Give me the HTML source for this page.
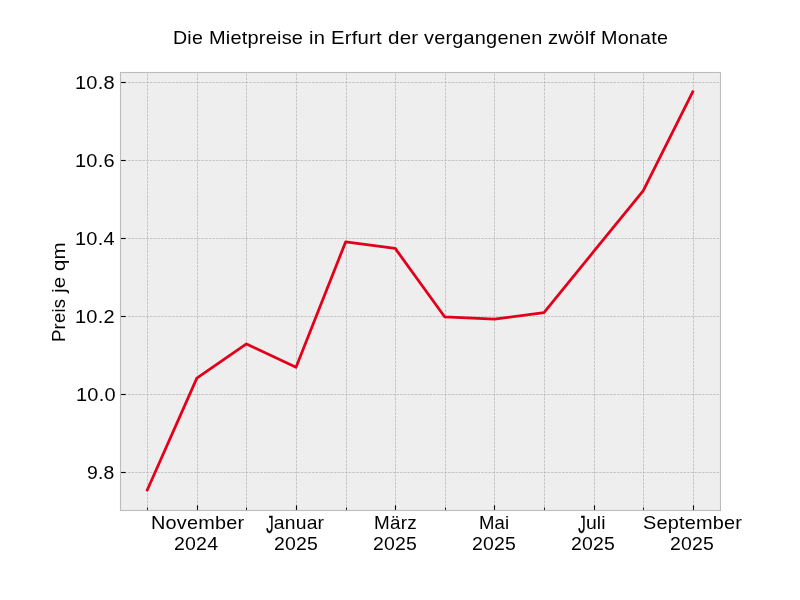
<!DOCTYPE html>
<html lang="de">
<head>
<meta charset="utf-8">
<title>Die Mietpreise in Erfurt der vergangenen zwölf Monate</title>
<style>
html,body{margin:0;padding:0;background:#ffffff;}
body{width:800px;height:600px;position:relative;overflow:hidden;font-family:"Liberation Sans",sans-serif;color:#000000;}
svg{position:absolute;left:0;top:0;display:block;}
#labels{position:absolute;left:0;top:0;width:800px;height:600px;will-change:transform;}
.grp{position:absolute;left:0;top:0;width:0;height:0;margin:0;padding:0;font-weight:normal;font-size:19px;}
.j{display:inline-block;transform-origin:100% -2px;transform:scale(0.76,1.24);-webkit-text-stroke:0.3px #000;}
.t{position:absolute;display:block;white-space:nowrap;line-height:1;transform-origin:0 0;margin:0;padding:0;}
</style>
</head>
<body>
<svg width="800" height="600" viewBox="0 0 800 600">
<rect x="120" y="72" width="601" height="439" fill="#eeeeee"/>
<g stroke="#b2b2b2" stroke-width="1" stroke-opacity="0.69" stroke-dasharray="2.57 1.11" fill="none">
<path stroke-dashoffset="0.53" d="M147.5 510V73"/>
<path stroke-dashoffset="0.53" d="M197.5 510V73"/>
<path stroke-dashoffset="0.53" d="M246.5 510V73"/>
<path stroke-dashoffset="0.53" d="M296.5 510V73"/>
<path stroke-dashoffset="0.53" d="M346.5 510V73"/>
<path stroke-dashoffset="0.53" d="M395.5 510V73"/>
<path stroke-dashoffset="0.53" d="M445.5 510V73"/>
<path stroke-dashoffset="0.53" d="M494.5 510V73"/>
<path stroke-dashoffset="0.53" d="M544.5 510V73"/>
<path stroke-dashoffset="0.53" d="M594.5 510V73"/>
<path stroke-dashoffset="0.53" d="M643.5 510V73"/>
<path stroke-dashoffset="0.53" d="M693.5 510V73"/>
<path stroke-dashoffset="3.21" d="M120 82.5H720"/>
<path stroke-dashoffset="3.21" d="M120 160.5H720"/>
<path stroke-dashoffset="3.21" d="M120 238.5H720"/>
<path stroke-dashoffset="3.21" d="M120 316.5H720"/>
<path stroke-dashoffset="3.21" d="M120 394.5H720"/>
<path stroke-dashoffset="3.21" d="M120 472.5H720"/>
</g>
<path d="M147.27 490.00L196.86 378.07L246.45 343.95L296.03 367.27L345.62 241.96L395.21 248.43L444.79 316.96L494.38 319.18L543.97 312.67L593.55 251.71L643.14 190.95L692.73 91.81" fill="none" stroke="#e2001a" stroke-width="2.78" stroke-linejoin="round" stroke-linecap="square"/>
<g stroke="#000" stroke-width="1.11" fill="none">
<path d="M197.5 510.5V505.4"/>
<path d="M296.5 510.5V505.4"/>
<path d="M395.5 510.5V505.4"/>
<path d="M494.5 510.5V505.4"/>
<path d="M594.5 510.5V505.4"/>
<path d="M693.5 510.5V505.4"/>
<path d="M120.5 82.5H125.6"/>
<path d="M120.5 160.5H125.6"/>
<path d="M120.5 238.5H125.6"/>
<path d="M120.5 316.5H125.6"/>
<path d="M120.5 394.5H125.6"/>
<path d="M120.5 472.5H125.6"/>
</g>
<g stroke="#000" stroke-width="0.85" fill="none">
<path d="M147.5 510.5V507.5"/>
<path d="M246.5 510.5V507.5"/>
<path d="M346.5 510.5V507.5"/>
<path d="M445.5 510.5V507.5"/>
<path d="M544.5 510.5V507.5"/>
<path d="M643.5 510.5V507.5"/>
</g>
<rect x="120.5" y="72.5" width="600.0" height="438.0" fill="none" stroke="#bcbcbc" stroke-width="1.11"/>
</svg>
<div id="labels">
<h1 class="grp"><span class="t" style="left:172.90px;top:27.72px;font-size:19.1px;letter-spacing:0.20px;transform:scale(1.0264,0.9949)">Die</span> <span class="t" style="left:209.10px;top:27.72px;font-size:19.1px;letter-spacing:0.20px;transform:scale(1.0456,0.9949)">Mietpreise</span> <span class="t" style="left:308.79px;top:27.72px;font-size:19.1px;letter-spacing:0.20px;transform:scale(1.0543,0.9949)">in</span> <span class="t" style="left:331.25px;top:27.72px;font-size:19.1px;letter-spacing:0.20px;transform:scale(1.0630,0.9949)">Erfurt</span> <span class="t" style="left:387.68px;top:27.72px;font-size:19.1px;letter-spacing:0.20px;transform:scale(1.0788,0.9949)">der</span> <span class="t" style="left:423.54px;top:27.72px;font-size:19.1px;letter-spacing:0.20px;transform:scale(1.0426,0.9949)">vergangenen</span> <span class="t" style="left:548.45px;top:27.72px;font-size:19.1px;letter-spacing:0.20px;transform:scale(1.0615,0.9949)">zwölf</span> <span class="t" style="left:600.70px;top:27.72px;font-size:19.1px;letter-spacing:0.20px;transform:scale(1.0345,0.9949)">Monate</span></h1>
<div class="grp"><span class="t" style="left:48.53px;top:342.40px;font-size:19.1px;letter-spacing:0.20px;transform:rotate(-90deg) scale(0.9700,0.9999)">Preis</span> <span class="t" style="left:48.53px;top:292.97px;font-size:19.1px;letter-spacing:0.20px;transform:rotate(-90deg) scale(1.0757,0.9999)">je</span> <span class="t" style="left:48.53px;top:271.14px;font-size:19.1px;letter-spacing:0.20px;transform:rotate(-90deg) scale(1.0720,0.9999)">qm</span></div>
<div class="grp">
<span class="t" style="left:74.59px;top:72.70px;font-size:19.1px;letter-spacing:0.20px;transform:scale(1.0477,0.9800)">10.8</span>
<span class="t" style="left:74.54px;top:150.70px;font-size:19.1px;letter-spacing:0.20px;transform:scale(1.0477,0.9800)">10.6</span>
<span class="t" style="left:74.62px;top:228.70px;font-size:19.1px;letter-spacing:0.20px;transform:scale(1.0477,0.9800)">10.4</span>
<span class="t" style="left:74.62px;top:306.70px;font-size:19.1px;letter-spacing:0.20px;transform:scale(1.0477,0.9800)">10.2</span>
<span class="t" style="left:75.61px;top:384.70px;font-size:19.1px;letter-spacing:0.20px;transform:scale(1.0477,0.9800)">10.0</span>
<span class="t" style="left:87.07px;top:462.70px;font-size:19.1px;letter-spacing:0.20px;transform:scale(1.0148,0.9800)">9.8</span>
</div>
<div class="grp">
<span class="t" style="left:151.21px;top:512.50px;font-size:19.1px;letter-spacing:0.20px;transform:scale(1.0399,0.9799)">November</span> <span class="t" style="left:174.43px;top:533.50px;font-size:19.1px;letter-spacing:0.20px;transform:scale(1.0218,0.9751)">2024</span>
<span class="t" style="left:264.04px;top:512.50px;font-size:19.1px;letter-spacing:0.20px;transform:scale(1.0106,0.9799)"><span class="j">J</span>anuar</span> <span class="t" style="left:273.54px;top:533.50px;font-size:19.1px;letter-spacing:0.20px;transform:scale(1.0173,0.9751)">2025</span>
<span class="t" style="left:374.06px;top:512.50px;font-size:19.1px;letter-spacing:0.20px;transform:scale(0.9897,0.9799)">März</span> <span class="t" style="left:372.54px;top:533.50px;font-size:19.1px;letter-spacing:0.20px;transform:scale(1.0173,0.9751)">2025</span>
<span class="t" style="left:478.51px;top:512.50px;font-size:19.1px;letter-spacing:0.20px;transform:scale(0.9701,0.9799)">Mai</span> <span class="t" style="left:471.54px;top:533.50px;font-size:19.1px;letter-spacing:0.20px;transform:scale(1.0173,0.9751)">2025</span>
<span class="t" style="left:575.65px;top:512.50px;font-size:19.1px;letter-spacing:0.20px;transform:scale(1.0133,0.9799)"><span class="j">J</span>uli</span> <span class="t" style="left:570.54px;top:533.50px;font-size:19.1px;letter-spacing:0.20px;transform:scale(1.0173,0.9751)">2025</span>
<span class="t" style="left:642.57px;top:512.50px;font-size:19.1px;letter-spacing:0.20px;transform:scale(1.0418,0.9799)">September</span> <span class="t" style="left:669.54px;top:533.50px;font-size:19.1px;letter-spacing:0.20px;transform:scale(1.0173,0.9751)">2025</span>
</div>
</div>
</body>
</html>
